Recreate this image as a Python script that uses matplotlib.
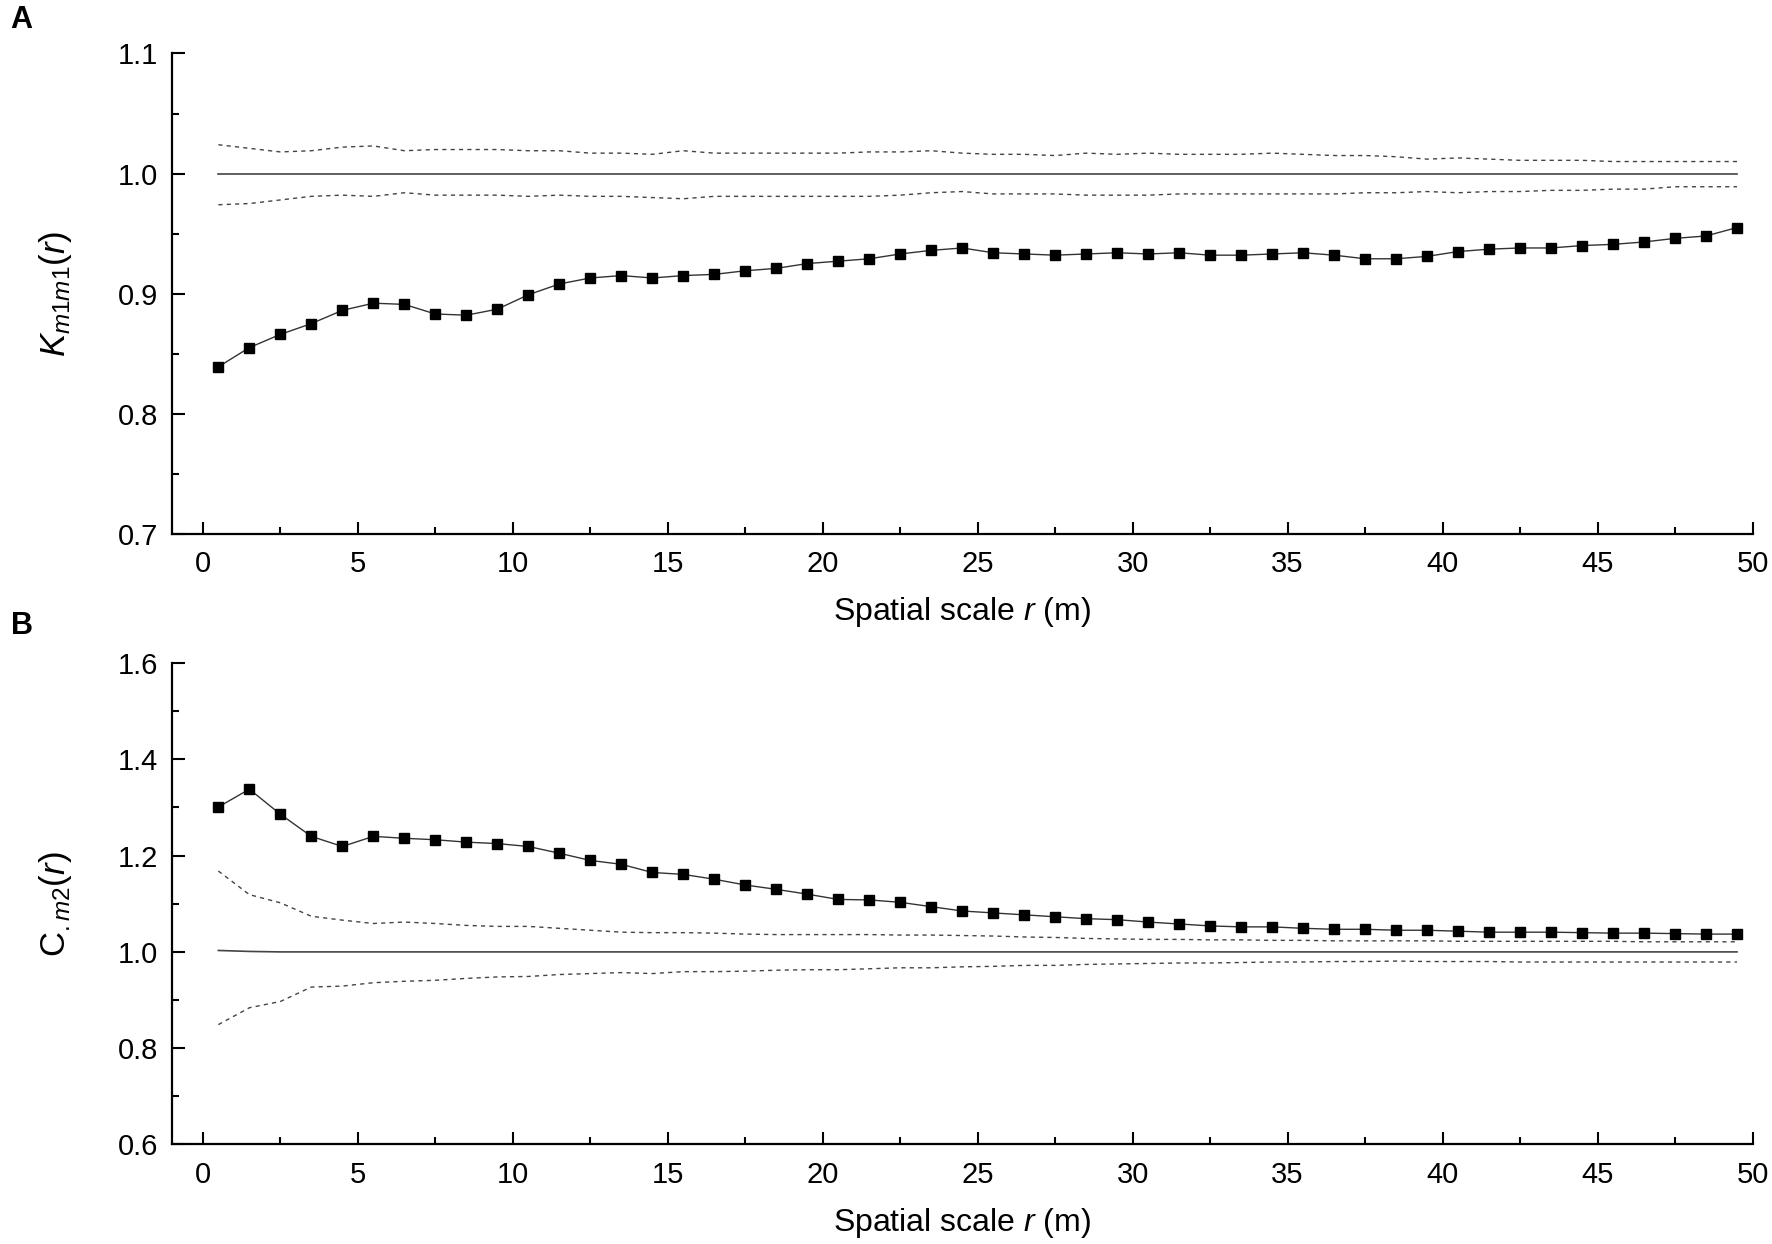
import numpy as np
import matplotlib
matplotlib.use("Agg")
import matplotlib.pyplot as plt
from matplotlib.ticker import MultipleLocator, FormatStrFormatter

plt.rcParams['font.family'] = ['Liberation Sans', 'DejaVu Sans']
plt.rcParams['mathtext.fontset'] = 'custom'
plt.rcParams['mathtext.rm'] = 'Liberation Sans'
plt.rcParams['mathtext.it'] = 'Liberation Sans:italic'

# spatial scale r (m)
r = np.arange(0.5, 50, 1.0)

# panel A: K_m1m1(r), observed and simulation envelope
k_obs = [0.839, 0.855, 0.866, 0.875, 0.886, 0.892, 0.891, 0.883, 0.882, 0.887,
         0.899, 0.908, 0.913, 0.915, 0.913, 0.915, 0.916, 0.919, 0.921, 0.925,
         0.927, 0.929, 0.933, 0.936, 0.938, 0.934, 0.933, 0.932, 0.933, 0.934,
         0.933, 0.934, 0.932, 0.932, 0.933, 0.934, 0.932, 0.929, 0.929, 0.931,
         0.935, 0.937, 0.938, 0.938, 0.940, 0.941, 0.943, 0.946, 0.948, 0.955]
k_hi = [1.024, 1.021, 1.018, 1.019, 1.022, 1.023, 1.019, 1.020, 1.020, 1.020,
        1.019, 1.019, 1.017, 1.017, 1.016, 1.019, 1.017, 1.017, 1.017, 1.017,
        1.017, 1.018, 1.018, 1.019, 1.017, 1.016, 1.016, 1.015, 1.017, 1.016,
        1.017, 1.016, 1.016, 1.016, 1.017, 1.016, 1.015, 1.015, 1.014, 1.012,
        1.013, 1.012, 1.011, 1.011, 1.011, 1.010, 1.010, 1.010, 1.010, 1.010]
k_mid = [1.000, 1.000, 1.000, 1.000, 1.000, 1.000, 1.000, 1.000, 1.000, 1.000,
         1.000, 1.000, 1.000, 1.000, 1.000, 1.000, 1.000, 1.000, 1.000, 1.000,
         1.000, 1.000, 1.000, 1.000, 1.000, 1.000, 1.000, 1.000, 1.000, 1.000,
         1.000, 1.000, 1.000, 1.000, 1.000, 1.000, 1.000, 1.000, 1.000, 1.000,
         1.000, 1.000, 1.000, 1.000, 1.000, 1.000, 1.000, 1.000, 1.000, 1.000]
k_lo = [0.974, 0.975, 0.978, 0.981, 0.982, 0.981, 0.984, 0.982, 0.982, 0.982,
        0.981, 0.982, 0.981, 0.981, 0.980, 0.979, 0.981, 0.981, 0.981, 0.981,
        0.981, 0.981, 0.982, 0.984, 0.985, 0.983, 0.983, 0.983, 0.982, 0.982,
        0.982, 0.983, 0.983, 0.983, 0.983, 0.983, 0.983, 0.984, 0.984, 0.985,
        0.984, 0.985, 0.985, 0.986, 0.986, 0.987, 0.987, 0.989, 0.989, 0.989]

# panel B: C_.m2(r), observed and simulation envelope
c_obs = [1.301, 1.338, 1.286, 1.240, 1.219, 1.240, 1.236, 1.233, 1.228, 1.225,
         1.219, 1.205, 1.190, 1.182, 1.165, 1.161, 1.151, 1.139, 1.130, 1.120,
         1.109, 1.108, 1.103, 1.094, 1.085, 1.081, 1.077, 1.073, 1.069, 1.067,
         1.062, 1.058, 1.054, 1.052, 1.052, 1.049, 1.047, 1.047, 1.045, 1.045,
         1.043, 1.041, 1.041, 1.041, 1.040, 1.039, 1.039, 1.038, 1.037, 1.037]
c_hi = [1.168, 1.119, 1.102, 1.074, 1.066, 1.059, 1.062, 1.059, 1.055, 1.053,
        1.053, 1.049, 1.045, 1.041, 1.040, 1.040, 1.039, 1.037, 1.036, 1.036,
        1.036, 1.036, 1.035, 1.035, 1.034, 1.033, 1.031, 1.030, 1.028, 1.027,
        1.026, 1.026, 1.025, 1.025, 1.024, 1.024, 1.023, 1.023, 1.023, 1.023,
        1.022, 1.022, 1.022, 1.022, 1.022, 1.022, 1.021, 1.021, 1.021, 1.021]
c_mid = [1.003, 1.001, 1.000, 1.000, 1.000, 1.000, 1.000, 1.000, 1.000, 1.000,
         1.000, 1.000, 1.000, 1.000, 1.000, 1.000, 1.000, 1.000, 1.000, 1.000,
         1.000, 1.000, 1.000, 1.000, 1.000, 1.000, 1.000, 1.000, 1.000, 1.000,
         1.000, 1.000, 1.000, 1.000, 1.000, 1.000, 1.000, 1.000, 1.000, 1.000,
         1.000, 1.000, 1.000, 1.000, 1.000, 1.000, 1.000, 1.000, 1.000, 1.000]
c_lo = [0.849, 0.884, 0.897, 0.927, 0.929, 0.936, 0.939, 0.941, 0.945, 0.948,
        0.949, 0.953, 0.955, 0.957, 0.955, 0.959, 0.959, 0.960, 0.962, 0.963,
        0.963, 0.965, 0.967, 0.967, 0.969, 0.970, 0.972, 0.972, 0.974, 0.975,
        0.976, 0.977, 0.977, 0.978, 0.979, 0.979, 0.980, 0.980, 0.981, 0.980,
        0.980, 0.980, 0.979, 0.979, 0.979, 0.979, 0.979, 0.979, 0.979, 0.979]

fig = plt.figure(figsize=(17.72, 12.44), dpi=100)
ax_a = fig.add_axes([0.097, 0.571, 0.892, 0.386])
ax_b = fig.add_axes([0.097, 0.080, 0.892, 0.387])


def draw_panel(ax, obs, hi, mid, lo, ylim, major, minor, ylabel):
    ax.plot(r, hi, color='#444444', lw=1.0, ls=(0, (3, 3)))
    ax.plot(r, lo, color='#444444', lw=1.0, ls=(0, (3, 3)))
    ax.plot(r, mid, color='#444444', lw=1.2)
    ax.plot(r, obs, color='#333333', lw=1.0, marker='s', ms=6.5,
            mfc='black', mec='black')
    ax.set_xlim(-1, 50)
    ax.set_ylim(*ylim)
    ax.xaxis.set_major_locator(MultipleLocator(5))
    ax.xaxis.set_minor_locator(MultipleLocator(2.5))
    ax.yaxis.set_major_locator(MultipleLocator(major))
    ax.yaxis.set_minor_locator(MultipleLocator(minor))
    ax.yaxis.set_major_formatter(FormatStrFormatter('%.1f'))
    for s in ['top', 'right']:
        ax.spines[s].set_visible(False)
    for s in ['left', 'bottom']:
        ax.spines[s].set_linewidth(1.6)
    ax.tick_params(which='major', direction='in', length=9, width=1.5,
                   labelsize=21)
    ax.tick_params(axis='y', which='major', pad=10)
    ax.tick_params(axis='x', which='major', pad=12)
    ax.tick_params(which='minor', direction='in', length=5, width=1.5)
    ax.set_xlabel('Spatial scale $r$ (m)', fontsize=23)
    ax.set_ylabel(ylabel, fontsize=25)
    ax.xaxis.set_label_coords(0.5, -0.128)
    ax.yaxis.set_label_coords(-0.062, 0.5)


draw_panel(ax_a, k_obs, k_hi, k_mid, k_lo, (0.7, 1.1), 0.1, 0.05,
           '$K_{\\mathit{m1m1}}(r)$')
draw_panel(ax_b, c_obs, c_hi, c_mid, c_lo, (0.6, 1.6), 0.2, 0.1,
           '$\\mathrm{C}_{\\mathit{.m2}}(r)$')

fig.text(0.006, 0.984, 'A', fontsize=22, fontweight='bold', va='center')
fig.text(0.006, 0.497, 'B', fontsize=22, fontweight='bold', va='center')

fig.savefig('out.png', dpi=100)
